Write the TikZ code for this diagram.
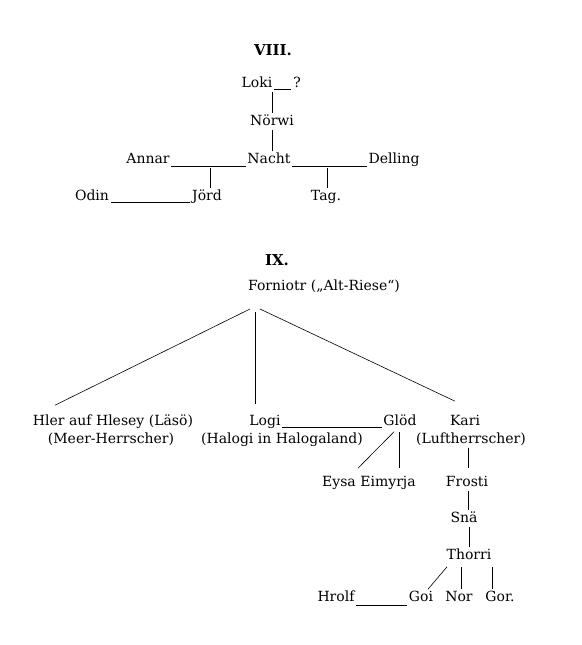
\documentclass[tikz,border=0pt]{standalone}
\usepackage{fontspec}
\setmainfont{DejaVu Serif}
\begin{document}
\begin{tikzpicture}[x=1pt,y=-1pt,line width=0.6pt,
  t/.style={anchor=base,inner sep=1.5pt,text height=10pt,text depth=3pt,font=\fontsize{14}{16}\selectfont},
  ttl/.style={anchor=base,inner sep=1.5pt,font=\fontsize{15}{17}\selectfont\bfseries}]
\useasboundingbox (0,0) rectangle (581,645);
% ---------- VIII ----------
\node[ttl] (t8) at (273,55) {VIII.};
\node[t] (loki) at (257,87) {Loki};
\node[t] (q) at (297,87) {?};
\node[t] (noerwi) at (272,125) {Nörwi};
\node[t] (annar) at (148,163) {Annar};
\node[t] (nacht) at (269,163) {Nacht};
\node[t] (delling) at (394,163) {Delling};
\node[t] (odin) at (92,200) {Odin};
\node[t] (jord) at (207,200) {Jörd};
\node[t] (tag) at (326,200) {Tag.};
\draw ([yshift=-2pt]loki.base east) -- ([yshift=-2pt]q.base west);
\draw (loki.south -| noerwi.north) -- (noerwi.north);
\draw (noerwi.south) -- (noerwi.south |- nacht.north);
\draw ([yshift=-3pt]annar.base east) -- ([yshift=-3pt]nacht.base west);
\draw ([yshift=-3pt]nacht.base east) -- ([yshift=-3pt]delling.base west);
\draw ([xshift=3pt]jord.north) -- ([xshift=3pt]jord.north |- annar.south);
\draw ([xshift=1pt]tag.north) -- ([xshift=1pt]tag.north |- delling.south);
\draw ([yshift=-2pt]odin.base east) -- ([yshift=-2pt]jord.base west);
% ---------- IX ----------
\node[ttl] (t9) at (277,265) {IX.};
\node[t] (forn) at (324,290) {Forniotr („Alt-Riese“)};
\coordinate (apex) at (255,309);
\node[t] (hler) at (113,425) {Hler auf Hlesey (Läsö)};
\node[t] (meer) at (111,443) {(Meer-Herrscher)};
\node[t] (logi) at (265,425) {Logi};
\node[t] (halogi) at (282,443) {(Halogi in Halogaland)};
\node[t] (glod) at (400,425) {Glöd};
\node[t] (kari) at (465,425) {Kari};
\node[t] (luft) at (471,443) {(Luftherrscher)};
\node[t] (eysa) at (339,486) {Eysa};
\node[t] (eimyrja) at (388,486) {Eimyrja};
\node[t] (frosti) at (467,486) {Frosti};
\node[t] (sna) at (464,522) {Snä};
\node[t] (thorri) at (469,559) {Thorri};
\node[t] (hrolf) at (336,601) {Hrolf};
\node[t] (goi) at (421,601) {Goi};
\node[t] (nor) at (459,601) {Nor};
\node[t] (gor) at (500,601) {Gor.};
\draw ([xshift=-5pt]apex) -- ([xshift=-58pt,yshift=8pt]hler.north);
\draw ([yshift=-3pt]apex) -- ([yshift=9pt]apex |- logi.north);
\draw ([xshift=5pt]apex) -- ([xshift=-10pt,yshift=12pt]kari.north);
\draw ([yshift=-2pt]logi.base east) -- ([yshift=-2pt]glod.base west);
\draw ([xshift=-6pt,yshift=-2pt]glod.south) -- ([xshift=19pt,yshift=6pt]eysa.north);
\draw ([xshift=-1pt,yshift=-2pt]glod.south) -- ([xshift=-1pt,yshift=6pt]glod.south |- eimyrja.north);
\draw ([xshift=1pt]frosti.north |- luft.south) -- ([xshift=1pt,yshift=6pt]frosti.north);
\draw ([xshift=1pt]frosti.south) -- ([xshift=1pt]frosti.south |- sna.north);
\draw (thorri.north |- sna.south) -- (thorri.north);
\draw ([xshift=-22pt,yshift=-3pt]thorri.south) -- ([xshift=7pt]goi.north);
\draw ([xshift=2pt]nor.north) -- ([xshift=2pt,yshift=-3pt]nor.north |- thorri.south);
\draw ([xshift=-8pt]gor.north) -- ([xshift=-8pt,yshift=-3pt]gor.north |- thorri.south);
\draw ([yshift=-4pt]hrolf.base east) -- ([yshift=-4pt]goi.base west);
\end{tikzpicture}
\end{document}
